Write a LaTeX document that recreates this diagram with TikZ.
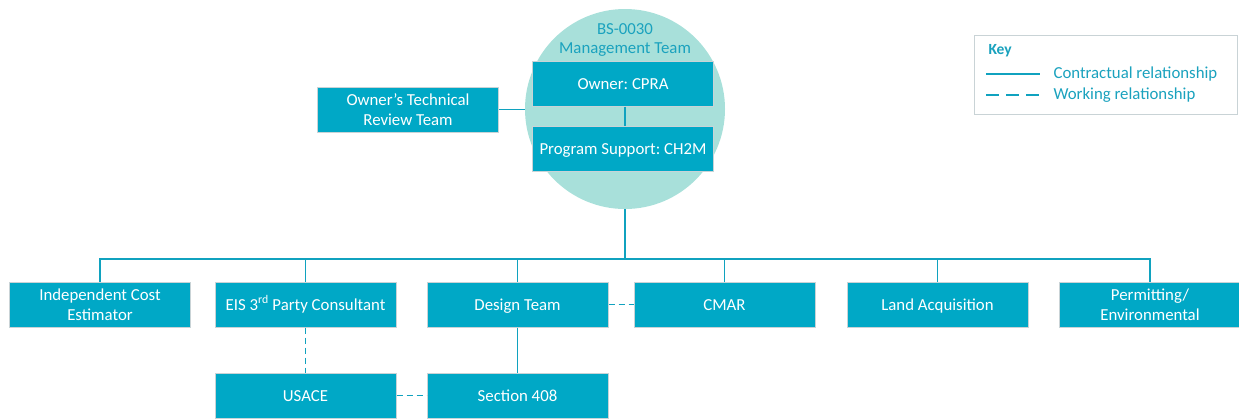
\documentclass[tikz,border=0pt]{standalone}
\usepackage{fontspec}
\setmainfont{Carlito}
\frenchspacing
\definecolor{boxc}{HTML}{00A8C6}
\definecolor{linec}{HTML}{10A2BF}
\definecolor{circc}{HTML}{A8E0DA}
\definecolor{txtc}{HTML}{1AA2BE}
\definecolor{bord}{HTML}{C9D3D6}
\begin{document}
\begin{tikzpicture}[x=1pt,y=-1pt,
  orgbox/.style={rectangle, fill=boxc, draw=bord, line width=1pt, minimum width=181pt, minimum height=45pt,
    text=white, align=center, font=\fontsize{16.8}{20}\selectfont, inner sep=2pt},
  onel/.style={orgbox, text height=13pt, text depth=2pt},
  conn/.style={draw=linec, line width=1.7pt},
  dconn/.style={conn, dash pattern=on 6pt off 4pt}]
\path[use as bounding box] (0,0) rectangle (1239,418);
% circle
\node[circle, fill=circc, minimum size=200pt, inner sep=0pt] (circ) at (625,109) {};
\node[text=txtc, align=center, font=\fontsize{16.8}{19}\selectfont] (mt) at (625,39.5) {BS-0030\\Management Team};
% top boxes
\node[onel] (owner) at (623,83.5) {Owner: CPRA};
\node[onel] (ps) at (623,148.5) {Program Support: CH2M};
\node[orgbox] (otr) at (408,109.5) {Owner’s Technical\\Review Team};
% bottom row
\node[orgbox] (ice) at (100,304.5) {Independent Cost\\Estimator};
\node[onel] (eis) at (305.5,304.5) {EIS 3\textsuperscript{rd} Party Consultant};
\node[onel] (des) at (517.5,304.5) {Design Team};
\node[onel] (cmar) at (724.5,304.5) {CMAR};
\node[onel] (land) at (937.5,304.5) {Land Acquisition};
\node[orgbox] (perm) at (1150,304.5) {Permitting/\\Environmental};
\node[onel] (usace) at (305.5,395.5) {USACE};
\node[onel] (s408) at (517.5,395.5) {Section 408};
% connectors
\coordinate (bus) at (625,259);
\draw[conn] (owner.south -| 625,0) -- (ps.north -| 625,0);
\draw[conn] (otr.east) -- (otr.east -| circ.west);
\draw[conn] (circ.south) -- (bus);
\foreach \b in {ice,eis,des,cmar,land,perm}{
  \draw[conn] (\b.north) |- (bus);
}
\draw[dconn] (eis.south) -- (usace.north);
\draw[dconn] (usace.east) -- (s408.west);
\draw[dconn] (des.east) -- (cmar.west);
\draw[conn] (des.south) -- (s408.north);
% key
\node[draw=bord, fill=white, line width=1pt, minimum width=263pt, minimum height=79pt, inner sep=0pt] (key) at (1105.5,74.5) {};
\node[anchor=west, text=txtc, font=\fontsize{15.5}{16}\selectfont\bfseries] (keyt) at (985,51) {Key};
\coordinate (k1a) at (986,74);
\coordinate (k1b) at (1040,74);
\coordinate (k2a) at (986,95);
\coordinate (k2b) at (1040,95);
\draw[conn] (k1a) -- (k1b);
\draw[conn, dash pattern=on 13pt off 7pt] (k2a) -- (k2b);
\node[anchor=west, text=txtc, font=\fontsize{16.8}{18}\selectfont] (c1) at (1050,74) {Contractual relationship};
\node[anchor=west, text=txtc, font=\fontsize{16.8}{18}\selectfont] (c2) at (1050,95) {Working relationship};
\end{tikzpicture}
\end{document}
